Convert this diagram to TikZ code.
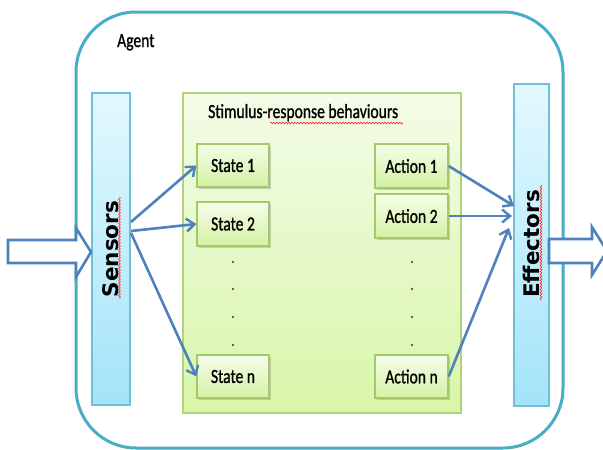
\documentclass[tikz,border=0pt]{standalone}
\usepackage{graphicx}
\usepackage{fontspec}
\setmainfont[FakeBold=1.2]{Carlito}
\newfontfamily\plainfont[FakeBold=1.2]{Carlito}
\newfontfamily\barfont{DejaVu Sans}
\newcommand{\hsquash}[1]{\scalebox{0.78}[1]{#1}}
\usetikzlibrary{arrows.meta,shadows,decorations.pathmorphing}
\definecolor{outerc}{HTML}{4BACC6}
\definecolor{barline}{HTML}{6FBFDA}
\definecolor{bartop}{HTML}{E3F8FE}
\definecolor{barbot}{HTML}{A3E4F9}
\definecolor{grnline}{HTML}{B3D27A}
\definecolor{grntop}{HTML}{F3FCE7}
\definecolor{grnbot}{HTML}{D8F6A9}
\definecolor{boxline}{HTML}{A5C86A}
\definecolor{boxtop}{HTML}{F6FDEA}
\definecolor{boxbot}{HTML}{D3F1A4}
\definecolor{arrc}{HTML}{4F81BD}
\begin{document}
\begin{tikzpicture}[x=1pt,y=-1pt,
  outerbox/.style={draw=outerc,line width=3pt,rounded corners=60pt,fill=white,inner sep=0pt},
  barbox/.style={draw=barline,line width=1.4pt,top color=bartop,bottom color=barbot,inner sep=0pt,
    drop shadow={shadow xshift=1.2pt,shadow yshift=-1.2pt,opacity=0.35}},
  grnbox/.style={draw=grnline,line width=1.4pt,top color=grntop,bottom color=grnbot,inner sep=0pt,
    drop shadow={shadow xshift=1.2pt,shadow yshift=-1.2pt,opacity=0.3}},
  itembox/.style={draw=boxline,line width=1.4pt,top color=boxtop,bottom color=boxbot,inner sep=0pt,
    minimum width=72pt,minimum height=43pt,font=\plainfont\fontsize{20}{22}\selectfont,
    drop shadow={shadow xshift=1.5pt,shadow yshift=-1.5pt,opacity=0.35}},
  conn/.style={draw=arrc,line width=2.6pt,-{Straight Barb[length=8pt,width=13pt,line width=2.4pt]}},
  blockarr/.style={draw=arrc,line width=2.6pt,fill=white,line join=miter},
  squig/.style={draw=red!85,line width=0.6pt,decorate,decoration={snake,amplitude=0.9pt,segment length=3pt}},
  dotmark/.style={circle,fill=black!80,inner sep=0pt,minimum size=2.4pt}
]
\useasboundingbox (0,0) rectangle (603,450);
\clip (0,0) rectangle (603,450);
\fill[white] (0,0) rectangle (603,450);

% outer agent box
\node[outerbox,minimum width=487pt,minimum height=436pt] (agent) at (319.5,230) {};
\node[anchor=base west,inner sep=0pt,font=\plainfont\fontsize{20}{22}\selectfont] (agentlbl) at (117,47) {\hsquash{Agent}};

% sensors and effectors
\node[barbox,minimum width=38pt,minimum height=312pt] (sens) at (111,249) {};
\node[rotate=90,font=\barfont\bfseries\fontsize{21.5}{24}\selectfont] (senslbl) at (111,249) {Sensors};
\node[barbox,minimum width=35pt,minimum height=322pt] (eff) at (531.5,245) {};
\node[rotate=90,font=\barfont\bfseries\fontsize{21.5}{24}\selectfont] (efflbl) at (531.5,244) {Effectors};

% green behaviours box
\node[grnbox,minimum width=278pt,minimum height=320pt] (beh) at (322,253) {};
\node[anchor=base west,inner sep=0pt,font=\plainfont\fontsize{20}{22}\selectfont] (behlbl) at (208,118) {\hsquash{Stimulus-response behaviours}};

% spell-check squiggles
\draw[squig] (270,123) -- (403,123);
\draw[squig] (119.5,197) -- (119.5,298);
\draw[squig] (541,185) -- (541,300);

% state boxes
\node[itembox] (st1) at (233,165.5) {\hsquash{State 1}};
\node[itembox,minimum height=44pt] (st2) at (233,224) {\hsquash{State 2}};
\node[itembox] (stn) at (233,376.5) {\hsquash{State n}};
% action boxes
\node[itembox,minimum width=73pt,minimum height=44pt] (ac1) at (411.5,166) {\hsquash{Action 1}};
\node[itembox,minimum width=73pt,minimum height=44pt] (ac2) at (411.5,216) {\hsquash{Action 2}};
\node[itembox,minimum width=73pt] (acn) at (411.5,376.5) {\hsquash{Action n}};

% dots
\foreach \yy [count=\i] in {262,289,317,345} {
  \node[dotmark] (ds\i) at (233,\yy) {};
  \node[dotmark] (da\i) at (412,\yy) {};
}

% connector end points on bars
\coordinate (so1) at (131,222);
\coordinate (so2) at (131,231);
\coordinate (so3) at (131,233);
\coordinate (ei1) at (514,206);
\coordinate (ei2) at (512,216);
\coordinate (ei3) at (509,228);

\draw[conn] (so1) -- (st1.west);
\draw[conn] (so2) -- (st2.west);
\draw[conn] (so3) -- (stn.west);
\draw[conn] (ac1.east) -- (ei1);
\draw[conn] (ac2.east) -- (ei2);
\draw[conn] (acn.east) -- (ei3);

% block arrows in / out
\draw[blockarr] (8,240) -- (76,240) -- (76,228) -- (91,252) -- (76,277) -- (76,263) -- (8,263) -- cycle;
\draw[blockarr] (549,239) -- (592,239) -- (592,227) -- (607,251) -- (592,275) -- (592,263) -- (549,263) -- cycle;
\end{tikzpicture}
\end{document}
